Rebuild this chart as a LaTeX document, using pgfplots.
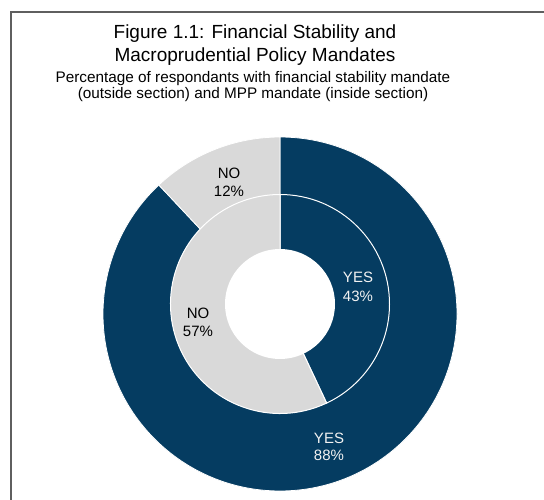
\documentclass[border=0pt]{standalone}
\usepackage{pgfplots}
\pgfplotsset{compat=1.18}
\usepackage{pgfplotstable}
\usepackage{fontspec}
\setmainfont{Liberation Sans}
\definecolor{navy}{RGB}{5,60,97}
\definecolor{lgray}{RGB}{217,217,217}
\definecolor{framegray}{RGB}{95,95,95}
\definecolor{ltext}{RGB}{242,242,242}

\pgfplotstableread{
label pct
YES 88
NO 12
}\outerdata
\pgfplotstableread{
label pct
YES 43
NO 57
}\innerdata

\begin{document}%
\begin{tikzpicture}
\pgfplotstablegetelem{0}{pct}\of\outerdata \pgfmathsetmacro{\oYes}{\pgfplotsretval}
\pgfplotstablegetelem{1}{pct}\of\outerdata \pgfmathsetmacro{\oNo}{\pgfplotsretval}
\pgfplotstablegetelem{0}{pct}\of\innerdata \pgfmathsetmacro{\iYes}{\pgfplotsretval}
\pgfplotstablegetelem{1}{pct}\of\innerdata \pgfmathsetmacro{\iNo}{\pgfplotsretval}
\pgfmathsetmacro{\oA}{90-3.6*\oYes}
\pgfmathsetmacro{\oB}{\oA-3.6*\oNo}
\pgfmathsetmacro{\iA}{90-3.6*\iYes}
\pgfmathsetmacro{\iB}{\iA-3.6*\iNo}
\begin{axis}[at={(0,0)}, anchor=south west, scale only axis,
  width=544bp, height=500bp, xmin=0, xmax=544, ymin=0, ymax=500,
  hide axis, clip=false]
% outer ring (financial stability mandate)
\fill[navy, draw=white, line width=0.8bp] (axis cs:280,186) -- ++(90:177bp)
  arc[start angle=90, end angle=\oA, radius=177bp] -- cycle;
\fill[lgray, draw=white, line width=0.8bp] (axis cs:280,186) -- ++(\oA:177bp)
  arc[start angle=\oA, end angle=\oB, radius=177bp] -- cycle;
% inner ring (MPP mandate)
\fill[navy, draw=white, line width=1bp] (axis cs:280,196) -- ++(90:109.5bp)
  arc[start angle=90, end angle=\iA, radius=109.5bp] -- cycle;
\fill[lgray, draw=white, line width=1bp] (axis cs:280,196) -- ++(\iA:109.5bp)
  arc[start angle=\iA, end angle=\iB, radius=109.5bp] -- cycle;
\fill[white] (axis cs:280,196) circle[radius=55bp];
% labels
\begin{scope}[every node/.style={anchor=base, inner sep=0pt, font=\fontsize{15bp}{17bp}\selectfont}]
\node[text=ltext] at (axis cs:329,56) {YES};
\node[text=ltext] at (axis cs:329,39) {88\%};
\node[text=black] at (axis cs:229,321) {NO};
\node[text=black] at (axis cs:229,303) {12\%};
\node[text=ltext] at (axis cs:358,217) {YES};
\node[text=ltext] at (axis cs:358,198) {43\%};
\node[text=black] at (axis cs:198,181) {NO};
\node[text=black] at (axis cs:198,163) {57\%};
\end{scope}
% titles
\node[anchor=base, inner sep=0pt, font=\fontsize{19bp}{22bp}\selectfont] at (axis cs:255,461) {Figure 1.1: Financial Stability and};
\node[anchor=base, inner sep=0pt, font=\fontsize{19bp}{22bp}\selectfont] at (axis cs:255,438) {Macroprudential Policy Mandates};
\node[anchor=base, inner sep=0pt, font=\fontsize{15.3bp}{17bp}\selectfont] at (axis cs:253,417) {Percentage of respondants with financial stability mandate};
\node[anchor=base, inner sep=0pt, font=\fontsize{15.3bp}{17bp}\selectfont] at (axis cs:253,401) {(outside section) and MPP mandate (inside section)};
\end{axis}
\draw[framegray, line width=2bp] (11bp,0) -- (11bp,488bp) -- (544bp,488bp);
\pgfresetboundingbox
\useasboundingbox (0,0) rectangle (544bp,500bp);
\end{tikzpicture}%
\end{document}
